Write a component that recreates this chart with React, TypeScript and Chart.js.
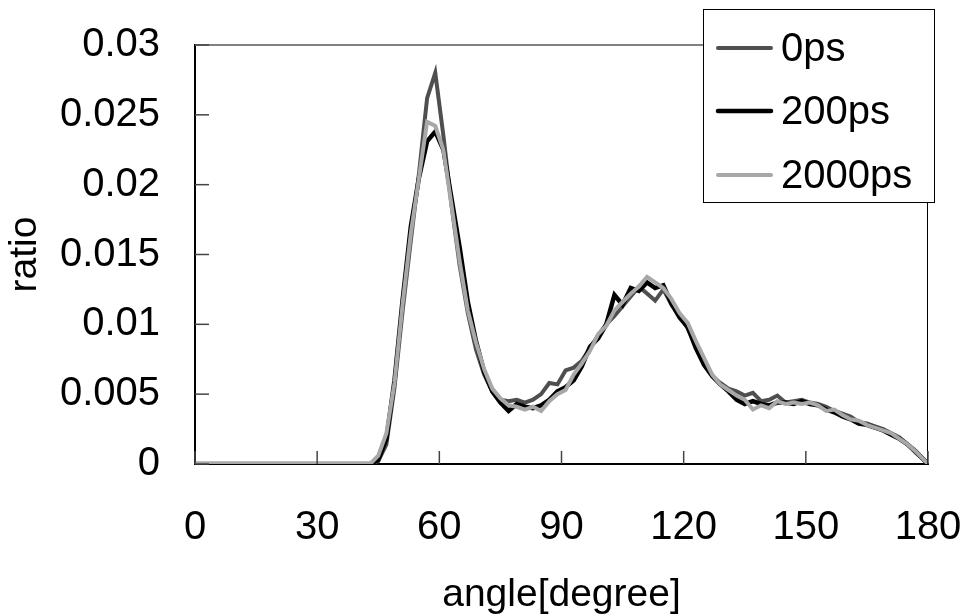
import React, { useEffect, useRef } from "react";
import { Chart, registerables } from "chart.js";

Chart.register(...registerables);

const angles = [
  0, 43, 45, 47, 49, 51, 53, 55, 57, 59, 61, 63, 65, 67, 69, 71, 73, 75, 77, 79,
  81, 83, 85, 87, 89, 91, 93, 95, 97, 99, 101, 103, 105, 107, 109, 111, 113, 115,
  117, 119, 121, 123, 125, 127, 129, 131, 133, 135, 137, 139, 141, 143, 145, 147,
  149, 151, 153, 155, 157, 159, 161, 163, 165, 167, 169, 171, 173, 175, 177, 179, 180,
];

const ps0 = [
  0, 0, 0.0002, 0.0014, 0.0055, 0.011, 0.016, 0.0208, 0.0262, 0.028, 0.0235, 0.0185,
  0.0142, 0.0108, 0.0082, 0.0064, 0.0052, 0.0046, 0.0045, 0.0046, 0.0044, 0.0046,
  0.005, 0.0058, 0.0057, 0.0067, 0.0069, 0.0074, 0.0083, 0.0092, 0.01, 0.0106,
  0.0113, 0.012, 0.0127, 0.0122, 0.0117, 0.0125, 0.0114, 0.0106, 0.0097, 0.0085,
  0.0074, 0.0063, 0.0058, 0.0054, 0.0052, 0.0049, 0.0051, 0.0045, 0.0046, 0.0049,
  0.0044, 0.0045, 0.0046, 0.0044, 0.0043, 0.0041, 0.0038, 0.0036, 0.0034, 0.003,
  0.0029, 0.0027, 0.0025, 0.0022, 0.0019, 0.0014, 0.0008, 0.0003, 0,
];

const ps200 = [
  0, 0, 0.0003, 0.0018, 0.006, 0.0118, 0.017, 0.0205, 0.0231, 0.0238, 0.0225, 0.019,
  0.0155, 0.0116, 0.0088, 0.0066, 0.0052, 0.0044, 0.0038, 0.0043, 0.0041, 0.004,
  0.0042, 0.0046, 0.0052, 0.0055, 0.006, 0.007, 0.0084, 0.009, 0.01, 0.0121,
  0.0114, 0.0126, 0.0124, 0.013, 0.0126, 0.0128, 0.0115, 0.0105, 0.0098, 0.0083,
  0.0071, 0.0063, 0.0057, 0.0052, 0.0046, 0.0043, 0.0045, 0.0043, 0.0042, 0.0044,
  0.0044, 0.0043, 0.0045, 0.0043, 0.0042, 0.0039, 0.0037, 0.0034, 0.0032, 0.0029,
  0.0028, 0.0026, 0.0024, 0.0021, 0.0018, 0.0014, 0.0009, 0.0003, 0,
];

const ps2000 = [
  0, 0, 0.0006, 0.0022, 0.0058, 0.0115, 0.0165, 0.0205, 0.0245, 0.0242, 0.0225,
  0.0185, 0.0145, 0.011, 0.0087, 0.0068, 0.0054, 0.0047, 0.0042, 0.0041, 0.0039,
  0.0041, 0.0038, 0.0045, 0.005, 0.0053, 0.0064, 0.0072, 0.0081, 0.0093, 0.0099,
  0.011, 0.0116, 0.0122, 0.0127, 0.0134, 0.013, 0.0126, 0.0118, 0.0108, 0.0101,
  0.0088, 0.0076, 0.0064, 0.0057, 0.0053, 0.0049, 0.0046, 0.0039, 0.0042, 0.004,
  0.0045, 0.0043, 0.0044, 0.0043, 0.0044, 0.0042, 0.0038, 0.0039, 0.0035, 0.0032,
  0.0031, 0.0028, 0.0026, 0.0024, 0.0022, 0.0018, 0.0014, 0.0009, 0.0003, 0,
];

const seriesLabels = ["0ps", "200ps", "2000ps"];
const xTitle = "angle[degree]";
const yTitle = "ratio";

const FONT = "'Liberation Sans', Arial, sans-serif";

const toPoints = (vals: number[]) => angles.map((a, i) => ({ x: a, y: vals[i] }));

const decorPlugin = {
  id: "decor",
  afterDatasetsDraw(chart: any) {
    const { ctx, chartArea, scales } = chart;
    const { left, right, top, bottom } = chartArea;
    ctx.save();
    ctx.strokeStyle = "#808080";
    ctx.lineWidth = 2;
    ctx.beginPath();
    ctx.moveTo(left, top);
    ctx.lineTo(right, top);
    ctx.stroke();
    ctx.strokeStyle = "#000";
    ctx.lineWidth = 1;
    ctx.beginPath();
    ctx.moveTo(right - 0.5, top);
    ctx.lineTo(right - 0.5, bottom);
    ctx.stroke();
    ctx.strokeStyle = "#444";
    ctx.lineWidth = 1.5;
    scales.x.ticks.forEach((t: any) => {
      const px = scales.x.getPixelForValue(t.value);
      ctx.beginPath();
      ctx.moveTo(px, bottom);
      ctx.lineTo(px, bottom - 13);
      ctx.stroke();
    });
    scales.y.ticks.forEach((t: any) => {
      const py = scales.y.getPixelForValue(t.value);
      ctx.beginPath();
      ctx.moveTo(left, py);
      ctx.lineTo(left + 14, py);
      ctx.stroke();
    });
    ctx.restore();
  },
  afterDraw(chart: any) {
    const { ctx } = chart;
    const bx = 703, by = 9, bw = 231, bh = 193;
    ctx.save();
    ctx.fillStyle = "#fff";
    ctx.fillRect(bx, by, bw, bh);
    ctx.strokeStyle = "#000";
    ctx.lineWidth = 1;
    ctx.strokeRect(bx + 0.5, by + 0.5, bw, bh);
    const rowYs = [48, 111, 175];
    chart.data.datasets.forEach((ds: any, i: number) => {
      const y = rowYs[i];
      ctx.strokeStyle = ds.borderColor;
      ctx.lineWidth = ds.borderWidth;
      ctx.lineCap = "round";
      ctx.beginPath();
      ctx.moveTo(718, y);
      ctx.lineTo(771, y);
      ctx.stroke();
      ctx.fillStyle = "#000";
      ctx.font = `40px ${FONT}`;
      ctx.textBaseline = "middle";
      ctx.textAlign = "left";
      ctx.fillText(ds.label, 781, y + 2);
    });
    ctx.restore();
  },
};

export default function App() {
  const ref = useRef<HTMLCanvasElement>(null);
  useEffect(() => {
    if (!ref.current) return;
    const chart = new Chart(ref.current, {
      type: "line",
      data: {
        datasets: [
          {
            label: seriesLabels[0],
            data: toPoints(ps0),
            borderColor: "#4f4f4f",
            borderWidth: 4,
            pointRadius: 0,
            order: 2,
          },
          {
            label: seriesLabels[1],
            data: toPoints(ps200),
            borderColor: "#000000",
            borderWidth: 4.5,
            pointRadius: 0,
            order: 1,
          },
          {
            label: seriesLabels[2],
            data: toPoints(ps2000),
            borderColor: "#a8a8a8",
            borderWidth: 4,
            pointRadius: 0,
            order: 0,
          },
        ],
      },
      options: {
        animation: false,
        responsive: false,
        devicePixelRatio: 1,
        layout: { padding: { left: 0, right: 37, top: 45, bottom: 0 } },
        plugins: { legend: { display: false }, tooltip: { enabled: false } },
        scales: {
          x: {
            type: "linear",
            min: 0,
            max: 180,
            ticks: {
              stepSize: 30,
              color: "#000",
              font: { family: FONT, size: 40 },
              padding: 40,
              maxRotation: 0,
            },
            grid: { display: false, drawTicks: false },
            border: { display: true, color: "#000", width: 2 },
            title: {
              display: true,
              text: xTitle,
              color: "#000",
              font: { family: FONT, size: 39, lineHeight: 1 },
              padding: { top: 0, bottom: 1 },
            },
            afterFit: (s: any) => {
              s.height = 152;
              s.paddingLeft = 0;
              s.paddingRight = 0;
            },
          },
          y: {
            type: "linear",
            min: 0,
            max: 0.03,
            ticks: {
              stepSize: 0.005,
              color: "#000",
              font: { family: FONT, size: 40 },
              padding: 35,
              callback: (v: any) => String(Number(Number(v).toFixed(3))),
            },
            grid: { display: false, drawTicks: false },
            border: { display: true, color: "#000", width: 2 },
            title: {
              display: true,
              text: yTitle,
              color: "#000",
              font: { family: FONT, size: 39, lineHeight: 1 },
              padding: { top: 6, bottom: 0 },
            },
            afterFit: (s: any) => {
              s.width = 195;
              s.paddingTop = 0;
              s.paddingBottom = 0;
            },
          },
        },
      },
      plugins: [decorPlugin],
    });
    return () => chart.destroy();
  }, []);
  return (
    <div style={{ position: "fixed", left: 0, top: 0, width: 965, height: 616, background: "#fff" }}>
      <canvas ref={ref} width={965} height={616} />
    </div>
  );
}
